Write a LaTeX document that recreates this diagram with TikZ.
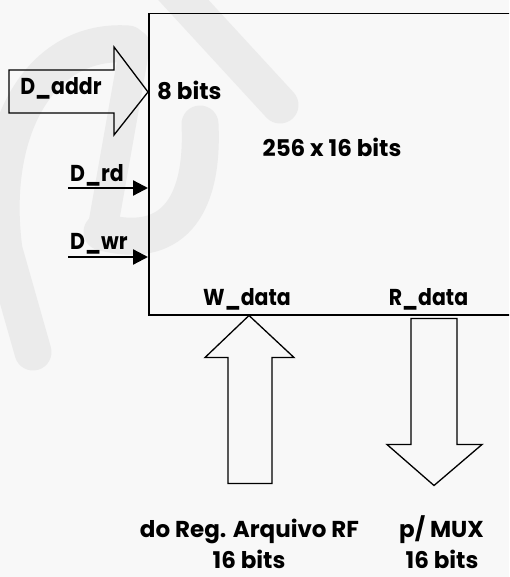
\documentclass[tikz,border=0pt]{standalone}
\usepackage{fontspec}
\setmainfont{Poppins}
\usetikzlibrary{arrows.meta}
\definecolor{paper}{HTML}{F8F8F8}
\definecolor{mark}{HTML}{EBEBEB}
\newcommand\narrow[1]{\scalebox{0.89}[1]{#1}}
\tikzset{
  lbl/.style={inner sep=0pt, font=\fontsize{23}{27}\selectfont\bfseries},
  frame/.style={draw, line width=1.5pt, inner sep=0pt},
  bigarrow/.style={draw, line width=1.3pt, line join=miter},
  sig/.style={line width=2.3pt, -{Triangle[length=15pt,width=15pt]}},
  logo/.style={draw=mark, line width=37pt, line cap=round, line join=round}
}
\begin{document}
\begin{tikzpicture}[x=1pt,y=-1pt]
\useasboundingbox (0,0) rectangle (509,577);
\clip (0,0) rectangle (509,577);
\fill[paper] (0,0) rectangle (509,577);

% faint background emblem
\draw[logo] (165,-20) -- (280,105);
\draw[logo] (128,44) .. controls (40,38) and (-12,130) .. (4,250) -- (33,352);
\draw[logo, line width=30pt] (135,45) -- (102,232);
\draw[logo] (200,124) .. controls (204,210) and (170,250) .. (102,232);

% memory block
\node[frame, minimum width=400pt, minimum height=301pt, anchor=north west] (ram) at (148,13) {};
\node[lbl, anchor=base] (size) at (332,157) {256 x 16 bits};
\node[lbl, anchor=base west] (abits) at (157,100) {8 bits};
\node[lbl, anchor=base] (wlbl) at (247,305) {\narrow{W\_data}};
\node[lbl, anchor=base] (rlbl) at (428.5,305) {\narrow{R\_data}};

% address bus
\path (ram.north west) ++(0,79) coordinate (addrtip);
\draw[bigarrow] (addrtip) -- ++(-34,-45) -- ++(0,23) -- ++(-105,0) -- ++(0,43)
  -- ++(105,0) -- ++(0,22) -- cycle;
\node[lbl, anchor=base] (addr) at (61,95) {\narrow{D\_addr}};

% control signals
\path (ram.north west) ++(0,175) coordinate (rdin);
\path (ram.north west) ++(0,244) coordinate (wrin);
\coordinate (rdsrc) at (68,188);
\coordinate (wrsrc) at (68,257);
\draw[sig] (rdsrc) -- (rdin);
\draw[sig] (wrsrc) -- (wrin);
\node[lbl, anchor=base west] (rd) at (70,182) {\narrow{D\_rd}};
\node[lbl, anchor=base west] (wr) at (70,249) {\narrow{D\_wr}};

% write data bus (into the block)
\path (ram.south west) ++(101,0) coordinate (wtip);
\draw[bigarrow] (wtip) -- ++(-44,42) -- ++(23,0) -- ++(0,126) -- ++(44,0)
  -- ++(0,-126) -- ++(22,0) -- cycle;

% read data bus (out of the block)
\path (ram.south west) ++(263,3) coordinate (rtop);
\draw[bigarrow] (rtop) -- ++(46,0) -- ++(0,126) -- ++(25,0) -- ++(-48,41)
  -- ++(-47,-41) -- ++(24,0) -- cycle;

\node[lbl, anchor=base] (src) at (249.5,537) {do Reg. Arquivo RF};
\node[lbl, anchor=base] (srcw) at (249,568) {16 bits};
\node[lbl, anchor=base] (dst) at (441.5,537) {p/ MUX};
\node[lbl, anchor=base] (dstw) at (442,568) {16 bits};
\end{tikzpicture}
\end{document}
